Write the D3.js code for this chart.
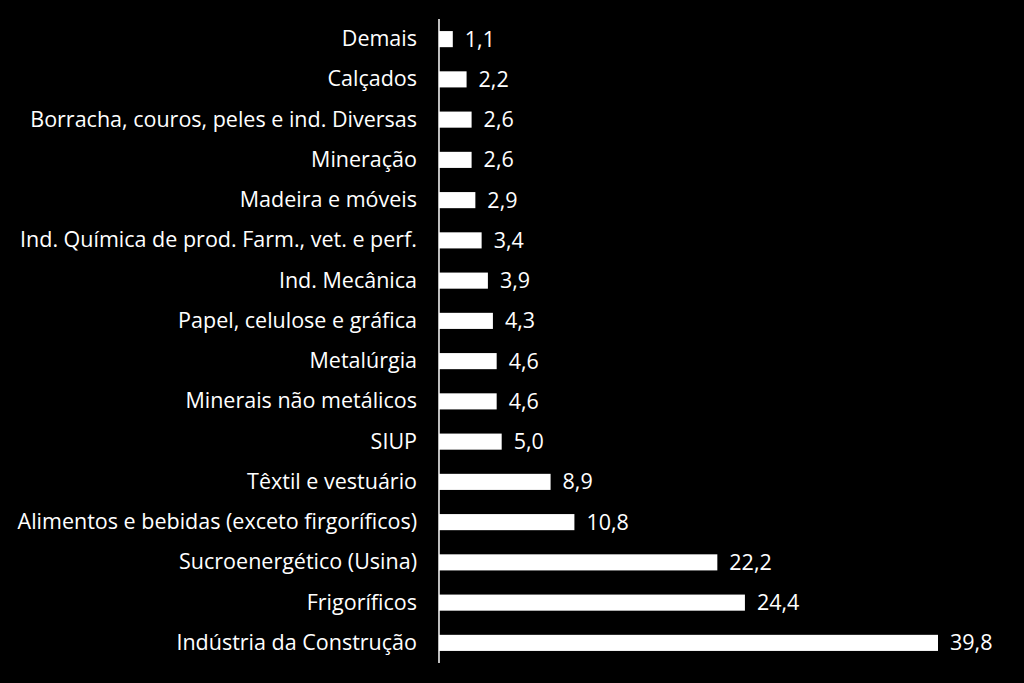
<!DOCTYPE html>
<html>
<head>
<meta charset="utf-8">
<script src="https://cdn.jsdelivr.net/npm/d3@7"></script>
<style>
  html, body { margin: 0; padding: 0; background: #000; }
  svg text { font-family: "Open Sans", Lato, sans-serif; fill: #fff; }
</style>
</head>
<body>
<svg id="chart" width="1024" height="683"></svg>
<script>
// setores, de cima para baixo
var categories = [
  "Demais",
  "Calçados",
  "Borracha, couros, peles e ind. Diversas",
  "Mineração",
  "Madeira e móveis",
  "Ind. Química de prod. Farm., vet. e perf.",
  "Ind. Mecânica",
  "Papel, celulose e gráfica",
  "Metalúrgia",
  "Minerais não metálicos",
  "SIUP",
  "Têxtil e vestuário",
  "Alimentos e bebidas (exceto firgoríficos)",
  "Sucroenergético (Usina)",
  "Frigoríficos",
  "Indústria da Construção"
];
var values = [1.1, 2.2, 2.6, 2.6, 2.9, 3.4, 3.9, 4.3, 4.6, 4.6, 5.0, 8.9, 10.8, 22.2, 24.4, 39.8];

var svg = d3.select("#chart");
var x0 = 439, yTop = 19, yBottom = 663;
var fs = 21.5;

var x = d3.scaleLinear().domain([0, 39.8]).range([x0, 938]);
var y = d3.scaleBand().domain(categories).range([yTop, yBottom]).paddingInner(0.6).paddingOuter(0.3);

var fmt = function(v) { return d3.format(".1f")(v).replace(".", ","); };

svg.selectAll("rect.bar")
  .data(values)
  .enter().append("rect")
    .attr("class", "bar")
    .attr("x", x(0))
    .attr("y", function(d, i) { return y(categories[i]); })
    .attr("width", function(d) { return x(d) - x(0); })
    .attr("height", y.bandwidth())
    .attr("fill", "#fff");

// axis line + category labels
var yAxis = d3.axisLeft(y).tickSize(0).tickPadding(22);
var g = svg.append("g").attr("transform", "translate(" + x0 + ",0)").call(yAxis);
g.select(".domain").attr("stroke", "#fff").attr("stroke-width", 1.5).attr("d", "M0," + yTop + "V" + yBottom);
g.selectAll("text").attr("font-size", fs).attr("fill", "#fff").style("font-family", "'Open Sans', sans-serif");

svg.selectAll("text.val")
  .data(values)
  .enter().append("text")
    .attr("class", "val")
    .attr("x", function(d) { return x(d) + 12; })
    .attr("y", function(d, i) { return y(categories[i]) + y.bandwidth() / 2; })
    .attr("dy", "0.35em")
    .attr("font-size", fs)
    .text(fmt);
</script>
</body>
</html>
